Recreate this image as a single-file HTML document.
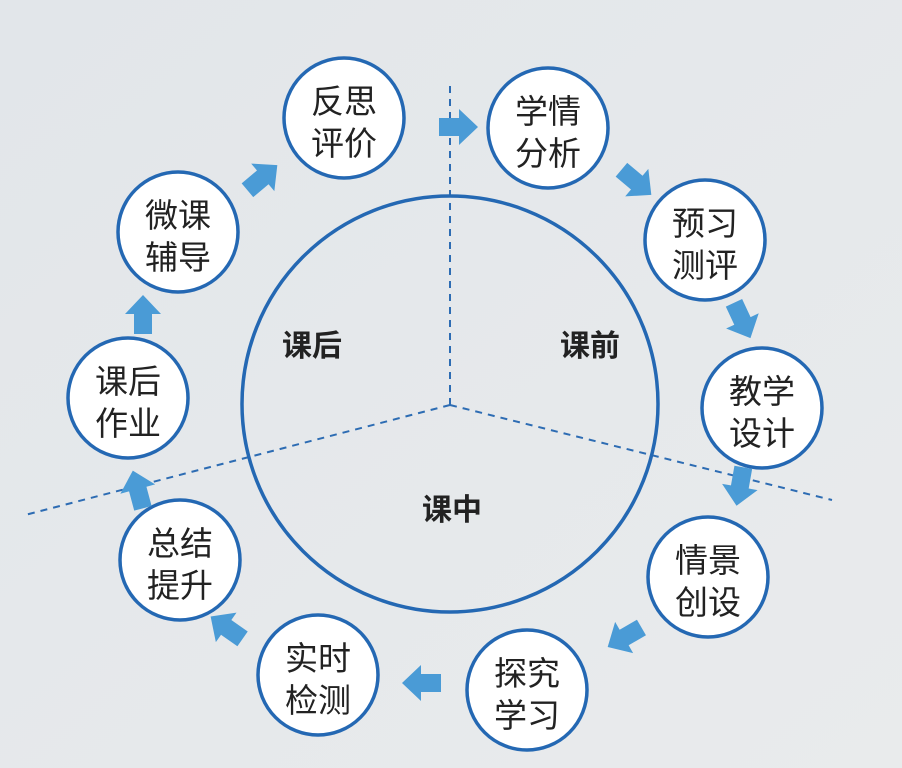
<!DOCTYPE html>
<html><head><meta charset="utf-8"><style>
html,body{margin:0;padding:0;background:#e6e9ec;}
svg{display:block}
text{font-family:"Liberation Sans","Noto Sans CJK SC",sans-serif;fill:#222;}
</style></head><body>
<svg width="902" height="768" viewBox="0 0 902 768">
<defs>
<linearGradient id="bg" x1="0" y1="0" x2="1" y2="1">
<stop offset="0" stop-color="#e2e6ea"/><stop offset="1" stop-color="#e9ebec"/>
</linearGradient>
<polygon id="ar" points="-19,-9 1,-9 1,-18 20,0 1,18 1,9 -19,9" fill="#4a9bd6"/>
</defs>
<rect width="902" height="768" fill="url(#bg)"/>
<g stroke="#2d6cb3" stroke-width="2" stroke-dasharray="7,6" fill="none">
<line x1="450" y1="405" x2="450" y2="82"/>
<line x1="450" y1="405" x2="832" y2="500"/>
<line x1="450" y1="405" x2="25" y2="515"/>
</g>
<circle cx="450" cy="404" r="208" fill="none" stroke="#2468b3" stroke-width="3.5"/>
<g font-size="30" text-anchor="middle" font-weight="bold">
<text x="312" y="356">课后</text>
<text x="590" y="356">课前</text>
<text x="452" y="520">课中</text>
</g>
<g fill="#fff" stroke="#2468b3" stroke-width="3.5">
<circle cx="344" cy="118" r="60"/>
<circle cx="548" cy="128" r="60"/>
<circle cx="705" cy="240" r="60"/>
<circle cx="762" cy="408" r="60"/>
<circle cx="708" cy="577" r="60"/>
<circle cx="527" cy="690" r="60"/>
<circle cx="318" cy="675" r="60"/>
<circle cx="180" cy="560" r="60"/>
<circle cx="128" cy="398" r="60"/>
<circle cx="178" cy="232" r="60"/>
</g>
<g font-size="33" text-anchor="middle">
<text x="344" y="113">反思</text><text x="344" y="155">评价</text>
<text x="548" y="123">学情</text><text x="548" y="165">分析</text>
<text x="705" y="235">预习</text><text x="705" y="277">测评</text>
<text x="762" y="403">教学</text><text x="762" y="445">设计</text>
<text x="708" y="572">情景</text><text x="708" y="614">创设</text>
<text x="527" y="685">探究</text><text x="527" y="727">学习</text>
<text x="318" y="670">实时</text><text x="318" y="712">检测</text>
<text x="180" y="555">总结</text><text x="180" y="597">提升</text>
<text x="128" y="393">课后</text><text x="128" y="435">作业</text>
<text x="178" y="227">微课</text><text x="178" y="269">辅导</text>
</g>
<use href="#ar" transform="translate(458,127)"/>
<use href="#ar" transform="translate(636,182) rotate(40)"/>
<use href="#ar" transform="translate(742,320) rotate(65)"/>
<use href="#ar" transform="translate(740,486) rotate(100)"/>
<use href="#ar" transform="translate(625,637) rotate(150)"/>
<use href="#ar" transform="translate(422,683) rotate(180)"/>
<use href="#ar" transform="translate(227,628) rotate(215)"/>
<use href="#ar" transform="translate(138,490) rotate(255)"/>
<use href="#ar" transform="translate(143,315) rotate(270)"/>
<use href="#ar" transform="translate(262,178) rotate(320)"/>
</svg>
</body></html>
